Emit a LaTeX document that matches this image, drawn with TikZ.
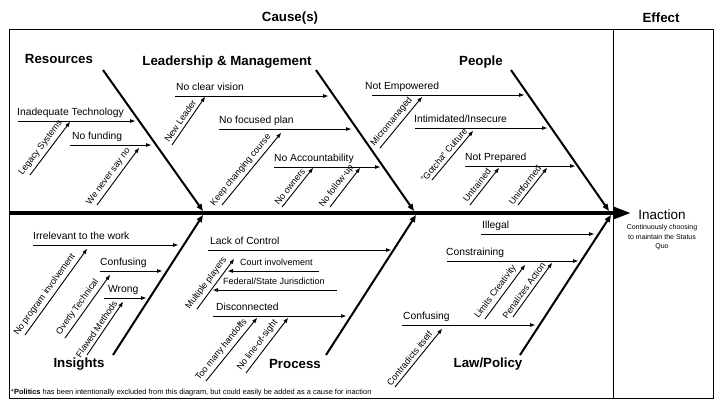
\documentclass[tikz,border=0pt]{standalone}
\usepackage{fontspec}
\setmainfont{Liberation Sans}
\usetikzlibrary{arrows.meta}

\tikzset{
  bone/.style={line width=2pt, -{Triangle[length=7pt,width=5.5pt]}},
  spine/.style={line width=4pt, -{Triangle[length=18pt,width=12pt]}},
  twig/.style={line width=0.9pt, -{Triangle[length=5pt,width=3.5pt]}},
  cat/.style={font=\fontsize{13.3}{15}\selectfont\bfseries},
  cause/.style={font=\fontsize{10.3}{12}\selectfont, anchor=base west, inner sep=0pt, yshift=5.5pt},
  why/.style={font=\fontsize{9}{10}\selectfont, sloped, above=2.5pt, inner sep=0.5pt, pos=0.42},
}
\newcommand{\hcause}[6]{%
  \coordinate (#1-s) at (#2,#4);
  \coordinate (#1-e) at (#3,#4);
  \draw[twig] (#1-s) -- (#1-e);
  \node[cause] (#1) at (#5,#4) {#6};}
\newcommand{\dcause}[6]{%
  \coordinate (#1-s) at (#2,#3);
  \coordinate (#1-e) at (#4,#5);
  \draw[twig] (#1-s) -- node[why] (#1) {#6} (#1-e);}

\begin{document}
\begin{tikzpicture}[x=1pt,y=-1pt]
  \useasboundingbox (0,0) rectangle (720,405);
  \draw[line width=1pt] (9,29) rectangle (713,398);
  \draw[line width=1pt] (613,29) -- (613,398);
  \node[cat] (causes) at (290,18) {Cause(s)};
  \node[cat] (effect) at (661,18) {Effect};

  \coordinate (tail) at (9,213);
  \coordinate (tip) at (631,213);
  \draw[spine] (tail) -- (tip);
  \node[font=\fontsize{13.5}{15}\selectfont] (inaction) at (662,215) {Inaction};
  \node[font=\fontsize{7}{9.5}\selectfont, align=center, anchor=north, inner sep=1pt] (quo)
    at (inaction.south) {Continuously choosing\\to maintain the Status\\Quo};

  \coordinate (res-s) at (103,70);  \coordinate (res-e) at (203,211);
  \coordinate (lead-s) at (316,70); \coordinate (lead-e) at (414,211);
  \coordinate (ppl-s) at (511,70);  \coordinate (ppl-e) at (609,211);
  \coordinate (ins-s) at (113,355); \coordinate (ins-e) at (203,215);
  \coordinate (proc-s) at (326,355); \coordinate (proc-e) at (416,215);
  \coordinate (law-s) at (520,355); \coordinate (law-e) at (611,215);
  \draw[bone] (res-s) -- (res-e);
  \draw[bone] (lead-s) -- (lead-e);
  \draw[bone] (ppl-s) -- (ppl-e);
  \draw[bone] (ins-s) -- (ins-e);
  \draw[bone] (proc-s) -- (proc-e);
  \draw[bone] (law-s) -- (law-e);
  \node[cat] (res) at (59,59) {Resources};
  \node[cat] (lead) at (227,62) {Leadership \& Management};
  \node[cat] (ppl) at (481,62) {People};
  \node[cat] (ins) at (79,364) {Insights};
  \node[cat] (proc) at (295,364) {Process};
  \node[cat] (law) at (488,364) {Law/Policy};

  \hcause{tech}{18}{135}{121}{17}{Inadequate Technology}
  \hcause{fund}{70}{151}{145}{72}{No funding}
  \dcause{legacy}{30}{175}{70}{122}{Legacy Systems}
  \dcause{never}{97}{205}{139}{148}{We never say no}

  \hcause{vision}{175}{328}{96}{176}{No clear vision}
  \hcause{plan}{219}{351}{129}{219}{No focused plan}
  \hcause{account}{274}{380}{167}{274}{No Accountability}
  \dcause{newlead}{172}{145}{205}{97}{New Leader}
  \dcause{course}{222}{205}{281}{133}{Keep changing course}
  \dcause{owners}{282}{207}{313}{168}{No owners}
  \dcause{follow}{330}{207}{360}{168}{No follow-up}

  \hcause{empower}{372}{524}{95}{365}{Not Empowered}
  \hcause{intim}{415}{547}{128}{414}{Intimidated/Insecure}
  \hcause{prep}{465}{575}{166}{465}{Not Prepared}
  \dcause{micro}{380}{148}{422}{97}{Micromanaged}
  \dcause{gotcha}{432}{180}{473}{131}{"Gotcha" Culture}
  \dcause{untrained}{470}{205}{499}{168}{Untrained}
  \dcause{uninformed}{518}{205}{547}{168}{Uninformed}

  \hcause{irrel}{33}{178}{245}{33}{Irrelevant to the work}
  \hcause{confa}{100}{162}{271}{100}{Confusing}
  \hcause{wrong}{104}{146}{298}{108}{Wrong}
  \dcause{noprog}{25}{335}{87}{249}{No program involvement}
  \dcause{overly}{65}{338}{110}{275}{Overly Technical}
  \dcause{flawed}{87}{355}{123}{302}{Flawed Methods}

  \hcause{lack}{208}{391}{250}{210}{Lack of Control}
  \hcause{court}{319}{228}{271}{240}{\fontsize{9}{10}\selectfont Court involvement}
  \hcause{fed}{337}{213}{290}{223}{\fontsize{9}{10}\selectfont Federal/State Jurisdiction}
  \hcause{disc}{213}{346}{316}{216}{Disconnected}
  \dcause{multi}{197}{309}{234}{259}{Multiple players}
  \dcause{handoff}{206}{381}{257}{318}{Too many handoffs}
  \dcause{sight}{246}{373}{288}{318}{No line-of-sight}

  \hcause{illegal}{481}{594}{234}{482}{Illegal}
  \hcause{constr}{447}{578}{261}{446}{Constraining}
  \hcause{confb}{402}{535}{325}{403}{Confusing}
  \dcause{limits}{485}{319}{525}{265}{Limits Creativity}
  \dcause{penal}{513}{317}{552}{263}{Penalizes Action}
  \dcause{contra}{395}{387}{442}{329}{Contradicts itself}

  \node[font=\fontsize{7.45}{8}\selectfont, anchor=base west, inner sep=0pt] (note) at (11,394.5)
    {*\textbf{Politics} has been intentionally excluded from this diagram, but could easily be added as a cause for inaction};
\end{tikzpicture}
\end{document}
